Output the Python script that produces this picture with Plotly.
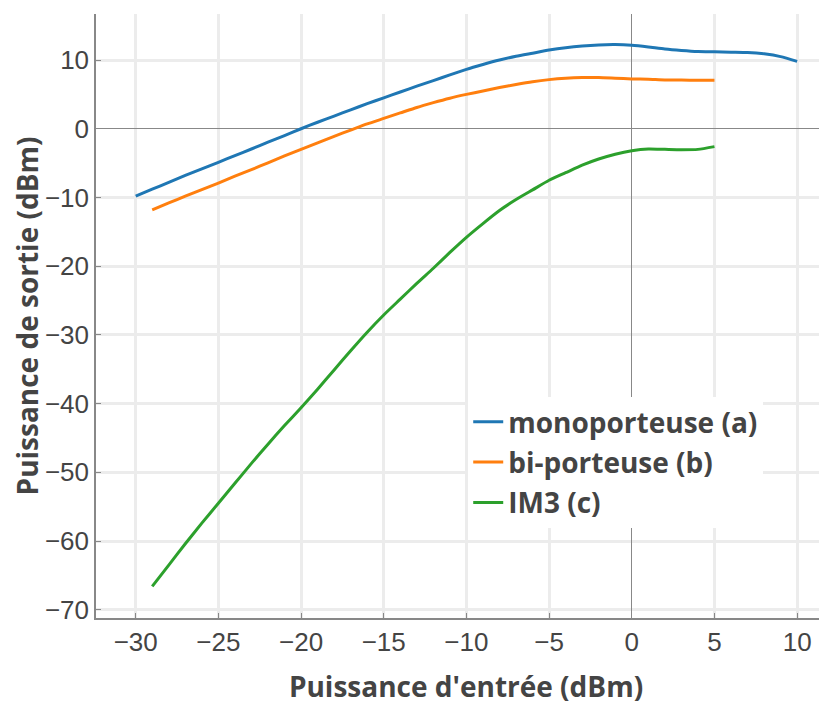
import plotly.graph_objects as go

x_mono = list(range(-30, 11))
y_mono = [-9.8, -8.8, -7.8, -6.8, -5.85, -4.9, -3.9, -2.95, -1.95, -1.0,
          0.0, 0.95, 1.85, 2.75, 3.65, 4.5, 5.35, 6.2, 7.0, 7.85,
          8.65, 9.35, 10.0, 10.55, 11.0, 11.45, 11.8, 12.05, 12.2, 12.25,
          12.15, 11.9, 11.6, 11.4, 11.25, 11.2, 11.15, 11.1, 10.9, 10.5, 9.8]

x_bi = list(range(-29, 6))
y_bi = [-11.8, -10.8, -9.8, -8.85, -7.9, -6.9, -5.95, -4.95, -3.95, -3.0,
        -2.05, -1.1, -0.2, 0.7, 1.5, 2.3, 3.1, 3.8, 4.45, 5.0,
        5.5, 6.0, 6.45, 6.85, 7.15, 7.35, 7.45, 7.45, 7.35, 7.25,
        7.2, 7.1, 7.1, 7.05, 7.05]

x_im3 = list(range(-29, 6))
y_im3 = [-66.6, -63.5, -60.4, -57.4, -54.5, -51.6, -48.7, -45.9, -43.2, -40.6,
         -37.9, -35.1, -32.3, -29.6, -27.1, -24.8, -22.5, -20.3, -18.0, -15.8,
         -13.8, -11.9, -10.3, -8.9, -7.5, -6.4, -5.3, -4.4, -3.7, -3.2,
         -2.95, -3.0, -3.05, -3.0, -2.6]

names = ["monoporteuse (a)", "bi-porteuse (b)", "IM3 (c)"]
colors = ["#1f77b4", "#ff7f0e", "#2ca02c"]

x_ticks = [-30, -25, -20, -15, -10, -5, 0, 5, 10]
y_ticks = [10, 0, -10, -20, -30, -40, -50, -60, -70]

fig = go.Figure()
for i, (xs, ys) in enumerate([(x_mono, y_mono), (x_bi, y_bi), (x_im3, y_im3)]):
    fig.add_trace(go.Scatter(x=xs, y=ys, mode="lines", name=names[i],
                             legendgroup=f"g{i}",
                             line=dict(color=colors[i], width=3, shape="spline", smoothing=0.6)))

axis_common = dict(
    automargin=False,
    showgrid=True, gridcolor="#ececec", gridwidth=3,
    zeroline=True, zerolinecolor="#888888", zerolinewidth=1,
    showline=True, linecolor="#888888", linewidth=1.5,
    ticks="inside", ticklen=5, tickcolor="#888888",
    tickfont=dict(family="Liberation Sans, Arial", size=26, color="#444444"),
)

title_font = dict(family="Open Sans", size=28, color="#444444", weight="bold")

fig.update_layout(
    width=828, height=706,
    margin=dict(l=88, r=0, t=6, b=96),
    plot_bgcolor="white", paper_bgcolor="white",
    showlegend=True,
    legend=dict(x=0.503, y=0.366, xanchor="left", yanchor="top",
                bgcolor="white", tracegroupgap=1,
                font=dict(family="Open Sans", size=28, color="#444444", weight="bold")),
    xaxis=dict(range=[-32.4, 12.35], tickvals=x_ticks,
               title=dict(text="Puissance d'entrée (dBm)", font=title_font, standoff=21),
               **axis_common),
    yaxis=dict(range=[-71.2, 16.7], tickvals=y_ticks,
               title=dict(text="Puissance de sortie (dBm)", font=title_font, standoff=0),
               **axis_common),
)

fig.write_html("out.html")
